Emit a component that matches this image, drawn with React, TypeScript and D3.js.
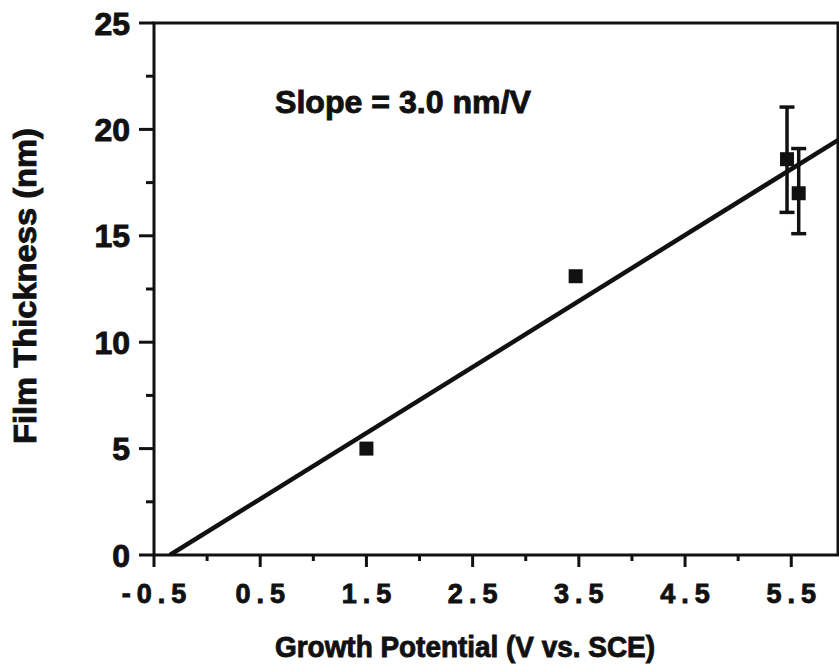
import React from "react";
import * as d3 from "d3";

const xMajorTicks = [-0.5, 0.5, 1.5, 2.5, 3.5, 4.5, 5.5];
const xMinorTicks = [0, 1, 2, 3, 4, 5];
const yMajorTicks = [0, 5, 10, 15, 20, 25];
const yMinorTicks = [2.5, 7.5, 12.5, 17.5, 22.5];

const pointX = [1.5, 3.47, 5.46, 5.57];
const pointY = [5.0, 13.1, 18.6, 17.0];
const errLow = [null, null, 16.1, 15.1];
const errHigh = [null, null, 21.05, 19.1];

const fitSlope = 3.1;
const fitIntercept = 1.085;
const fitXRange = [-0.35, 5.94];

const xDomain = [-0.5, 5.94];
const yDomain = [0, 25];

const FONT = "'Liberation Sans', Arial, Helvetica, sans-serif";
const INK = "#111";

export default function App() {
  const W = 839;
  const H = 666;
  const left = 154, right = 838, top = 23, bottom = 555;
  const x = d3.scaleLinear().domain(xDomain).range([left, right]);
  const y = d3.scaleLinear().domain(yDomain).range([bottom, top]);

  const fitLine = d3
    .line<number>()
    .x((d) => x(d))
    .y((d) => y(fitSlope * d + fitIntercept));

  const sq = 14;
  const cap = 15;
  const heavy = { stroke: INK, strokeWidth: 0.9 };

  return (
    <svg
      width={W}
      height={H}
      style={{ position: "absolute", left: 0, top: 0, background: "#fff" }}
    >
      <rect x={0} y={0} width={W} height={H} fill="#fff" />
      <defs>
        <clipPath id="plot">
          <rect x={left} y={top} width={right - left} height={bottom - top} />
        </clipPath>
      </defs>

      {/* frame */}
      <rect
        x={left}
        y={top}
        width={right - left}
        height={bottom - top}
        fill="none"
        stroke={INK}
        strokeWidth={3}
      />

      {/* y ticks */}
      {yMajorTicks.map((t) => (
        <g key={"ym" + t}>
          <line x1={left - 15} x2={left} y1={y(t)} y2={y(t)} stroke={INK} strokeWidth={3} />
          <text
            x={130}
            y={y(t)}
            dy="0.36em"
            textAnchor="end"
            fontFamily={FONT}
            fontWeight="bold"
            fontSize={32}
            fill={INK}
            {...heavy}
          >
            {t}
          </text>
        </g>
      ))}
      {yMinorTicks.map((t) => (
        <line key={"yn" + t} x1={left - 8} x2={left} y1={y(t)} y2={y(t)} stroke={INK} strokeWidth={3} />
      ))}

      {/* x ticks */}
      {xMajorTicks.map((t) => (
        <g key={"xm" + t}>
          <line x1={x(t)} x2={x(t)} y1={bottom} y2={bottom + 12} stroke={INK} strokeWidth={3} />
          <text
            x={x(t) + 3}
            y={603}
            textAnchor="middle"
            fontFamily={FONT}
            fontWeight="bold"
            fontSize={27}
            letterSpacing={6}
            fill={INK}
            {...heavy}
          >
            {t < 0 ? "-" + Math.abs(t).toFixed(1) : t.toFixed(1)}
          </text>
        </g>
      ))}
      {xMinorTicks.map((t) => (
        <line key={"xn" + t} x1={x(t)} x2={x(t)} y1={bottom} y2={bottom + 6} stroke={INK} strokeWidth={3} />
      ))}

      {/* fit line */}
      <path
        d={fitLine(fitXRange) || ""}
        fill="none"
        stroke={INK}
        strokeWidth={4.5}
        clipPath="url(#plot)"
      />

      {/* error bars */}
      {pointX.map((px, i) =>
        errLow[i] != null && errHigh[i] != null ? (
          <g key={"e" + i}>
            <line x1={x(px)} x2={x(px)} y1={y(errLow[i] as number)} y2={y(errHigh[i] as number)} stroke={INK} strokeWidth={3.5} />
            <line x1={x(px) - cap / 2} x2={x(px) + cap / 2} y1={y(errLow[i] as number)} y2={y(errLow[i] as number)} stroke={INK} strokeWidth={3.5} />
            <line x1={x(px) - cap / 2} x2={x(px) + cap / 2} y1={y(errHigh[i] as number)} y2={y(errHigh[i] as number)} stroke={INK} strokeWidth={3.5} />
          </g>
        ) : null
      )}

      {/* points */}
      {pointX.map((px, i) => (
        <rect
          key={"p" + i}
          x={x(px) - sq / 2}
          y={y(pointY[i]) - sq / 2}
          width={sq}
          height={sq}
          fill={INK}
        />
      ))}

      {/* annotation */}
      <text
        x={275}
        y={113}
        fontFamily={FONT}
        fontWeight="bold"
        fontSize={31}
        textLength={256}
        lengthAdjust="spacingAndGlyphs"
        fill={INK}
        {...heavy}
      >
        Slope = 3.0 nm/V
      </text>

      {/* axis titles */}
      <text
        x={465}
        y={657}
        textAnchor="middle"
        fontFamily={FONT}
        fontWeight="bold"
        fontSize={29}
        textLength={380}
        lengthAdjust="spacingAndGlyphs"
        fill={INK}
        {...heavy}
      >
        Growth Potential (V vs. SCE)
      </text>
      <text
        transform={`translate(36, 286) rotate(-90)`}
        x={0}
        y={0}
        textAnchor="middle"
        fontFamily={FONT}
        fontWeight="bold"
        fontSize={31}
        textLength={316}
        lengthAdjust="spacingAndGlyphs"
        fill={INK}
        {...heavy}
      >
        Film Thickness (nm)
      </text>
    </svg>
  );
}
